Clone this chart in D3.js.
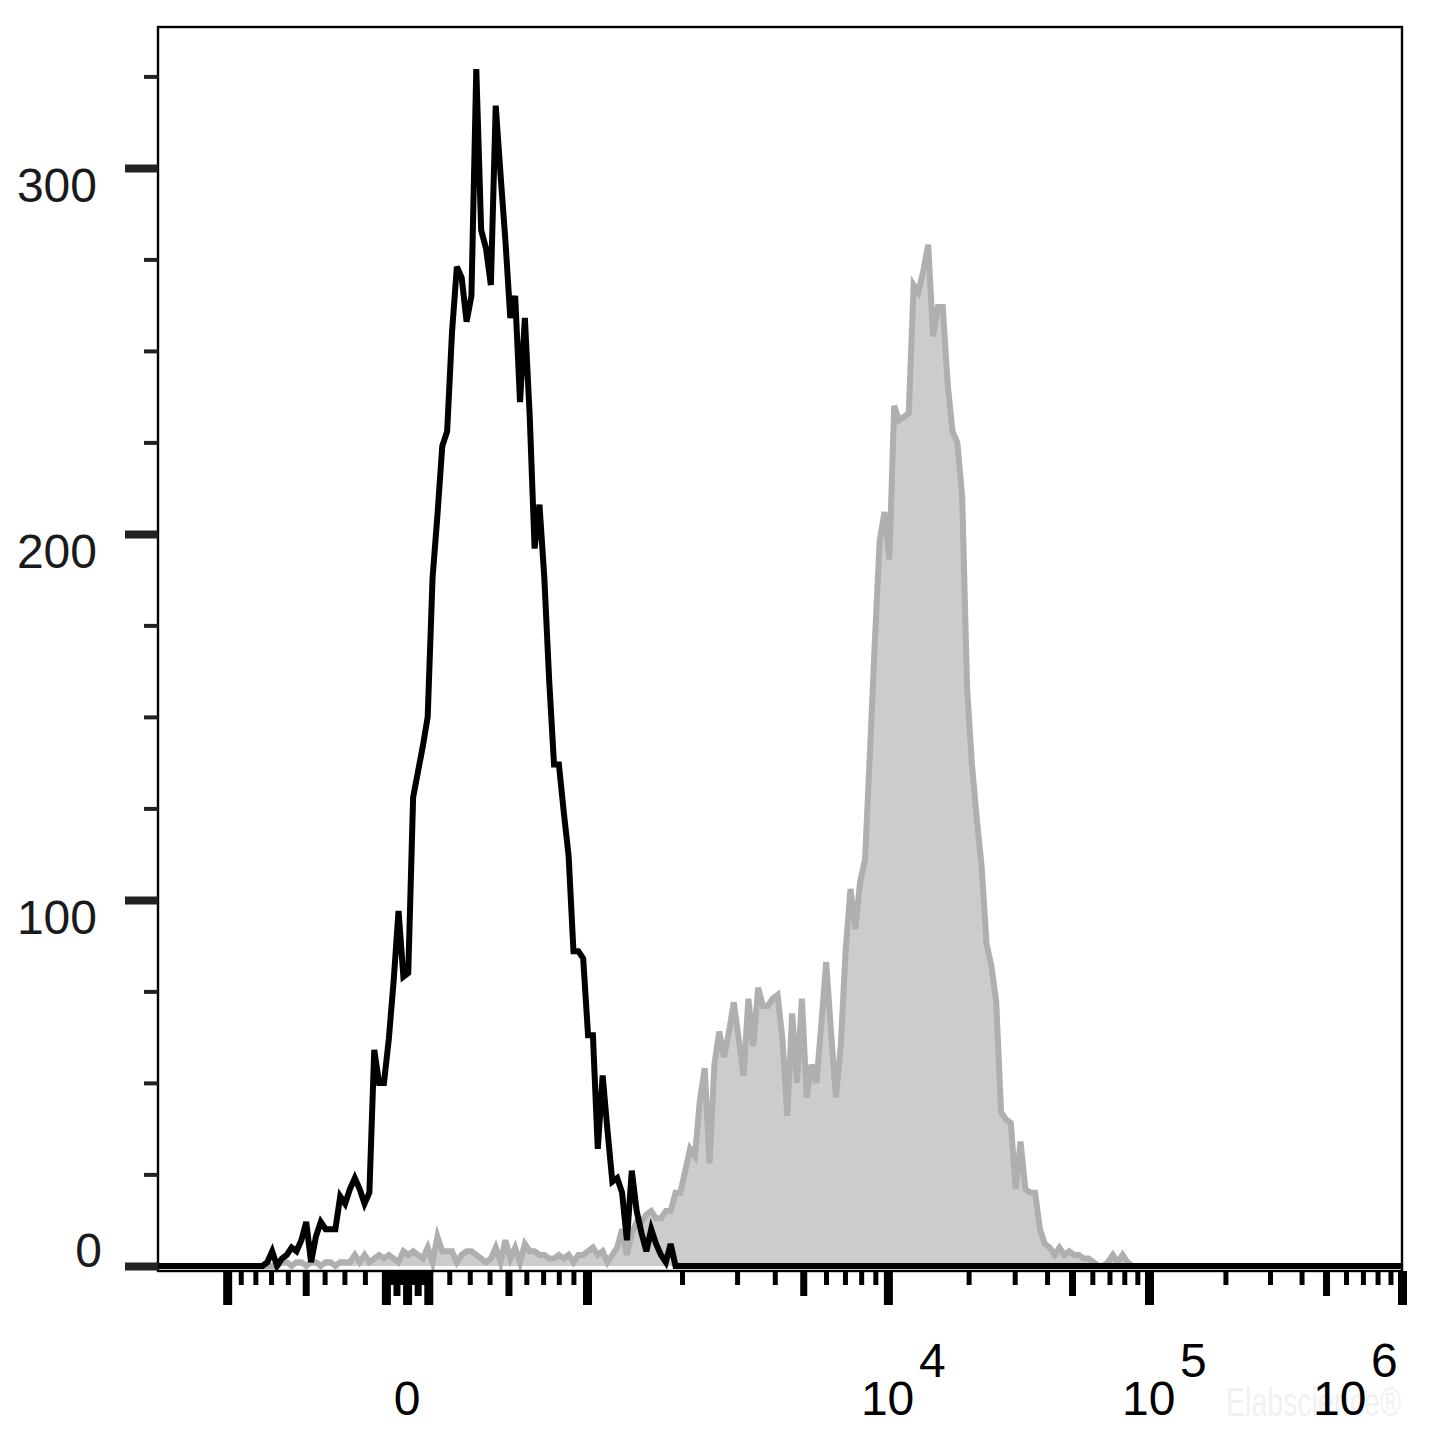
<!DOCTYPE html>
<html><head><meta charset="utf-8">
<script src="https://cdn.jsdelivr.net/npm/d3@7"></script>
<style>body{margin:0;background:#fff}svg{display:block}</style>
</head><body><svg id="c" width="1445" height="1445"></svg>
<script>
// ---------------- data ----------------
const channelCount = 256;            // histogram channels across the display
const xDomainData = [-1660, 1e6];    // data range shown on the biexponential axis
const yDomain = [-1.4, 338.5];

// unstained / control histogram (black line), counts per channel starting at blackStart
const blackStart = 21;
const blackCounts = [
  0, 1, 4, 0, 2, 3, 5, 4, 7, 12,          // 21-30
  1, 8, 12, 10, 10, 10, 19, 17, 21, 24,   // 31-40
  21, 17, 20, 59, 50, 50, 62, 78, 97, 79, // 41-50
  80, 128, 135, 142, 150, 188, 205, 224, 228, 255, // 51-60
  273, 270, 258, 265, 327, 283, 278, 268, 317, 298, // 61-70
  280, 259, 265, 236, 259, 232, 196, 208, 188, 160, // 71-80
  137, 137, 124, 112, 86, 86, 84, 63, 63, 32,        // 81-90
  52, 37, 23, 24, 20, 7, 26, 15, 9, 4,               // 91-100
  10, 6, 3, 1, 6, 0                                  // 101-106
];

// stained histogram (grey filled), counts per channel starting at grayStart
const grayStart = 22;
const grayCounts = [
  0, 0, 0, 1, 1, 0, 1, 1, 0,              // 22-30
  1, 1, 0, 1, 1, 0, 1, 1, 1, 3,           // 31-40
  1, 3, 1, 2, 3, 2, 3, 2, 1, 4,           // 41-50
  3, 4, 3, 2, 5, 1, 8, 4, 4, 4,           // 51-60
  1, 3, 4, 4, 3, 2, 1, 2, 5, 1,           // 61-70
  7, 2, 5, 1, 6, 4, 4, 3, 3, 2,           // 71-80
  2, 3, 2, 3, 1, 3, 3, 4, 5, 3,           // 81-90
  4, 1, 3, 5, 10, 3, 9, 12, 12, 14,       // 91-100
  15, 13, 13, 15, 15, 20, 20, 26, 32, 30, // 101-110
  45, 54, 28, 55, 64, 57, 64, 72, 62, 52, // 111-120
  73, 60, 76, 71, 71, 73, 74, 62, 41, 69, // 121-130
  50, 73, 46, 55, 50, 66, 83, 64, 46, 60, // 131-140
  86, 103, 92, 105, 111, 140, 170, 198, 206, 193, // 141-150
  235, 231, 232, 233, 268, 266, 272, 279, 254, 262, // 151-160
  262, 241, 228, 225, 210, 158, 137, 122, 109, 88,  // 161-170
  82, 72, 42, 40, 39, 21, 34, 21, 20, 20,           // 171-180
  10, 6, 5, 3, 5, 3, 4, 3, 3, 2,                    // 181-190
  2, 1, 0, 0, 1, 3, 1, 3, 1, 0                      // 191-200
];

const yMajorTicks = [0, 100, 200, 300];
const yMinorTicks = [25, 50, 75, 125, 150, 175, 225, 250, 275, 325];
const xMajorTicks = [-1000, -100, 0, 100, 1000, 1e4, 1e5, 1e6];
const xMidTicks = [-500, -50, 50, 500, 5000, 5e4, 5e5];
const xMinorTicks = [
  -900, -800, -700, -600, -400, -300, -200,
  -90, -80, -70, -60, -40, -30, -20, -10,
  10, 20, 30, 40, 60, 70, 80, 90,
  200, 300, 400, 600, 700, 800, 900,
  2000, 3000, 4000, 6000, 7000, 8000, 9000,
  2e4, 3e4, 4e4, 6e4, 7e4, 8e4, 9e4,
  2e5, 3e5, 4e5, 6e5, 7e5, 8e5, 9e5
];
const xLabels = [
  {value: 0, base: "0", exp: ""},
  {value: 1e4, base: "10", exp: "4"},
  {value: 1e5, base: "10", exp: "5"},
  {value: 1e6, base: "10", exp: "6"}
];

// ---------------- logicle (biexponential) transform ----------------
const LT = 1e6, LW = 0.868, LM = LW + 3.95;
function solveP(w) {
  let lo = 1.0001, hi = 100;
  for (let i = 0; i < 100; i++) {
    const mid = (lo + hi) / 2;
    const f = 2 * mid * Math.log10(mid) / (mid + 1);
    if (f < w) lo = mid; else hi = mid;
  }
  return (lo + hi) / 2;
}
const LP = solveP(LW);
function S(u) {
  if (u < LW) return -S(2 * LW - u);
  const d = u - LW;
  return LT * Math.pow(10, -(LM - LW)) *
    (Math.pow(10, d) - LP * LP * Math.pow(10, -d / LP) + LP * LP - 1);
}
function logicle(v) {
  let lo = -3, hi = LM + 2;
  for (let i = 0; i < 90; i++) {
    const mid = (lo + hi) / 2;
    if (S(mid) < v) lo = mid; else hi = mid;
  }
  return (lo + hi) / 2;
}

// ---------------- layout ----------------
const plot = {left: 158, right: 1402, top: 27, bottom: 1271};
const svg = d3.select("#c");
const FONT = "'Liberation Sans', Arial, Helvetica, sans-serif";

const xs = d3.scaleLinear()
  .domain([logicle(xDomainData[0]), logicle(xDomainData[1])])
  .range([plot.left, plot.right]);
const ys = d3.scaleLinear().domain(yDomain).range([plot.bottom, plot.top]);

const [u0, u1] = xs.domain();
const chW = (u1 - u0) / channelCount;

function series(start, counts) {
  const pts = [[u0, 0]];
  for (let i = 0; i < channelCount; i++) {
    const k = i - start;
    const c = (k >= 0 && k < counts.length) ? counts[k] : 0;
    pts.push([u0 + (i + 0.5) * chW, c]);
  }
  pts.push([u1, 0]);
  return pts;
}
const grayPts = series(grayStart, grayCounts);
const blackPts = series(blackStart, blackCounts);

const area = d3.area().x(d => xs(d[0])).y0(ys(0)).y1(d => ys(d[1]));
const line = d3.line().x(d => xs(d[0])).y(d => ys(d[1]));

svg.append("path").attr("d", area(grayPts)).attr("fill", "#cccccc");
svg.append("path").attr("d", line(grayPts)).attr("fill", "none")
  .attr("stroke", "#afafaf").attr("stroke-width", 6).attr("stroke-linejoin", "miter");
svg.append("path").attr("d", line(blackPts)).attr("fill", "none")
  .attr("stroke", "#000").attr("stroke-width", 6).attr("stroke-linejoin", "miter");

// frame
svg.append("rect").attr("x", plot.left).attr("y", plot.top)
  .attr("width", plot.right - plot.left).attr("height", plot.bottom - plot.top)
  .attr("fill", "none").attr("stroke", "#000").attr("stroke-width", 2.4);

// y axis ticks
function styleAxis(g, color, width) {
  g.select(".domain").remove();
  g.selectAll(".tick line").attr("stroke", color).attr("stroke-width", width);
}
svg.append("g").attr("transform", `translate(${plot.left},0)`)
  .call(d3.axisLeft(ys).tickValues(yMinorTicks).tickSize(14).tickFormat(""))
  .call(g => styleAxis(g, "#222", 4));
const yMaj = svg.append("g").attr("transform", `translate(${plot.left},0)`)
  .call(d3.axisLeft(ys).tickValues(yMajorTicks).tickSize(33).tickFormat(d3.format("d")))
  .call(g => styleAxis(g, "#222", 8));
yMaj.selectAll(".tick text")
  .attr("font-family", FONT).attr("font-size", 48).attr("fill", "#1a1a1a")
  .attr("text-anchor", "end")
  .attr("x", d => d === 0 ? -56 : -61)
  .attr("dy", null)
  .attr("y", d => d === 0 ? 1 : 34);

// x axis ticks
function xAxis(vals, size, width) {
  svg.append("g").attr("transform", `translate(0,${plot.bottom})`)
    .call(d3.axisBottom(xs).tickValues(vals.map(logicle)).tickSize(size).tickFormat(""))
    .call(g => styleAxis(g, "#000", width));
}
xAxis(xMinorTicks, 14, 5);
xAxis(xMidTicks, 25, 7);
xAxis(xMajorTicks, 34, 9);

// faint watermark (drawn under the labels)
svg.append("text").attr("x", 1226).attr("y", 1416)
  .attr("font-family", FONT).attr("font-size", 40)
  .attr("fill", "#f1f1f1").attr("textLength", 175).attr("lengthAdjust", "spacingAndGlyphs")
  .text("Elabscience®");

// x labels
const baseY = 1415, expY = 1377;
xLabels.forEach(l => {
  const px = xs(logicle(l.value));
  if (!l.exp) {
    svg.append("text").attr("x", px).attr("y", baseY)
      .attr("text-anchor", "middle").attr("font-family", FONT).attr("font-size", 48)
      .attr("fill", "#000").text(l.base);
  } else {
    const start = Math.min(px - 27, plot.right - 89);
    svg.append("text").attr("x", start).attr("y", baseY)
      .attr("font-family", FONT).attr("font-size", 48).attr("fill", "#000").text(l.base);
    svg.append("text").attr("x", start + 58).attr("y", expY)
      .attr("font-family", FONT).attr("font-size", 48).attr("fill", "#000").text(l.exp);
  }
});
</script>
</body></html>
